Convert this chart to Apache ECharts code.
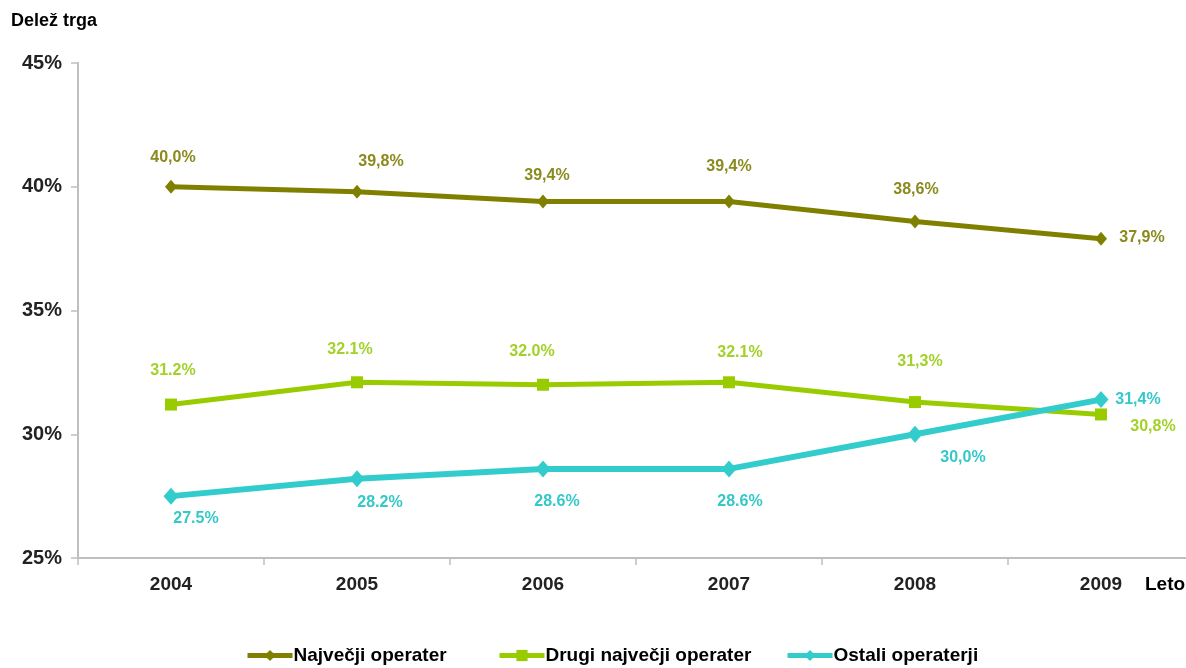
<!DOCTYPE html>
<html>
<head>
<meta charset="utf-8">
<title>Delež trga</title>
<script src="https://cdn.jsdelivr.net/npm/echarts@6/dist/echarts.min.js"></script>
<style>
  html, body { margin: 0; padding: 0; background: #fff; }
  #chart { width: 1186px; height: 668px; }
</style>
</head>
<body>
<div id="chart"></div>
<script>
// podatki
var years = ['2004', '2005', '2006', '2007', '2008', '2009'];
var najvecji = [40.0, 39.8, 39.4, 39.4, 38.6, 37.9];
var drugi = [31.2, 32.1, 32.0, 32.1, 31.3, 30.8];
var ostali = [27.5, 28.2, 28.6, 28.6, 30.0, 31.4];
// oznake kot na izvirniku (mešano vejica / pika)
var najvecjiLabels = ['40,0%', '39,8%', '39,4%', '39,4%', '38,6%', '37,9%'];
var drugiLabels = ['31.2%', '32.1%', '32.0%', '32.1%', '31,3%', '30,8%'];
var ostaliLabels = ['27.5%', '28.2%', '28.6%', '28.6%', '30,0%', '31,4%'];
var yTicks = [25, 30, 35, 40, 45];

// zamiki oznak (samo postavitev)
var najvecjiOff = [[2, -29], [24, -30], [4, -26], [0, -35], [1, -32], [41, -1]];
var drugiOff = [[2, -34], [-7, -33], [-11, -33], [11, -30], [5, -40], [52, 12]];
var ostaliOff = [[25, 22], [23, 24], [14, 33], [11, 33], [48, 23], [37, 0]];

var FONT = 'Liberation Sans, Arial, sans-serif';

function buildData(values, texts, offs, color){
    var out = [];
    for(var i = 0; i < values.length; i++){
        out.push({
            value: values[i],
            label: {
                show: true,
                position: 'inside',
                offset: offs[i],
                formatter: texts[i],
                color: color,
                fontFamily: FONT,
                fontWeight: 'bold',
                fontSize: 16
            }
        });
    }
    return out;
}

function legendAt(name, left){
    return {
        data: [name],
        left: left,
        top: 646,
        itemWidth: 45,
        itemHeight: 14,
        itemGap: 0,
        padding: 0,
        lineStyle: {width: 5},
        textStyle: {fontFamily: FONT, fontWeight: 'bold', fontSize: 19, color: '#000', padding: [0, 0, 0, -4]}
    };
}

var chart = echarts.init(document.getElementById('chart'));
var option = {
    animation: false,
    backgroundColor: '#fff',
    title: [
        {text: 'Delež trga', left: 11, top: 12, padding: 0,
         textStyle: {fontFamily: FONT, fontWeight: 'bold', fontSize: 18, color: '#000'}},
        {text: 'Leto', left: 1145, top: 575, padding: 0,
         textStyle: {fontFamily: FONT, fontWeight: 'bold', fontSize: 19, color: '#000'}}
    ],
    legend: [
        legendAt('Največji operater', 245),
        legendAt('Drugi največji operater', 497),
        legendAt('Ostali operaterji', 785)
    ],
    grid: {left: 78, top: 63, width: 1116, height: 495, containLabel: false, outerBoundsMode: 'none'},
    xAxis: {
        type: 'category',
        data: years,
        boundaryGap: true,
        axisLine: {lineStyle: {color: '#bfbfbf', width: 2}},
        axisTick: {show: true, interval: 0, length: 7, lineStyle: {color: '#bfbfbf', width: 1.5}},
        axisLabel: {margin: 17, color: '#222', fontFamily: FONT, fontWeight: 'bold', fontSize: 19}
    },
    yAxis: {
        type: 'value',
        min: yTicks[0],
        max: yTicks[yTicks.length - 1],
        interval: 5,
        splitLine: {show: false},
        axisLine: {show: true, lineStyle: {color: '#bfbfbf', width: 2}},
        axisTick: {show: true, length: 7, lineStyle: {color: '#bfbfbf', width: 1.5}},
        axisLabel: {margin: 16, color: '#222', fontFamily: FONT, fontWeight: 'bold', fontSize: 20,
                    formatter: '{value}%'}
    },
    series: [
        {
            name: 'Največji operater',
            type: 'line',
            data: buildData(najvecji, najvecjiLabels, najvecjiOff, '#8a8a1e'),
            symbol: 'diamond',
            symbolSize: [12, 14],
            lineStyle: {color: '#808000', width: 5},
            itemStyle: {color: '#808000'},
            z: 3
        },
        {
            name: 'Drugi največji operater',
            type: 'line',
            data: buildData(drugi, drugiLabels, drugiOff, '#a3d12a'),
            symbol: 'rect',
            symbolSize: 12,
            lineStyle: {color: '#99cc00', width: 5},
            itemStyle: {color: '#99cc00'},
            z: 2
        },
        {
            name: 'Ostali operaterji',
            type: 'line',
            data: buildData(ostali, ostaliLabels, ostaliOff, '#35c8c8'),
            symbol: 'diamond',
            symbolSize: [15, 17],
            lineStyle: {color: '#33cccc', width: 6},
            itemStyle: {color: '#33cccc'},
            z: 4
        }
    ]
};
chart.setOption(option);
</script>
</body>
</html>
